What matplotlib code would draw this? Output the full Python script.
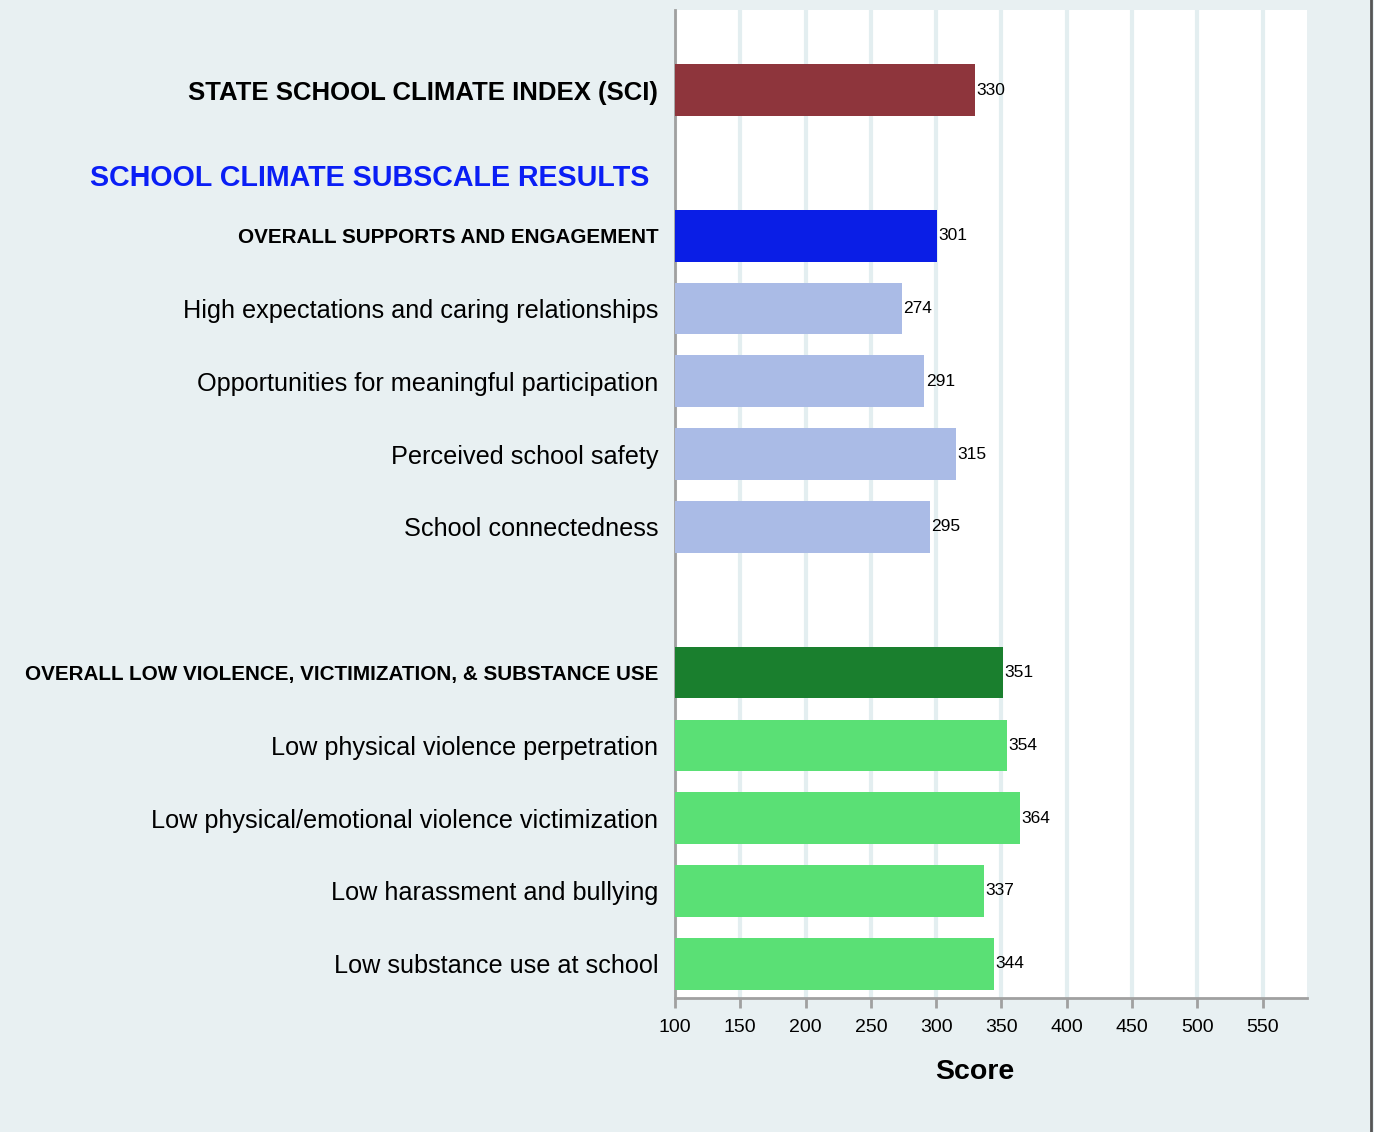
import matplotlib.pyplot as plt
from matplotlib.transforms import blended_transform_factory

plt.rcParams['font.family'] = ['Liberation Sans', 'DejaVu Sans']

# rows top to bottom; None = no bar (spacer rows)
labels = [
    "STATE SCHOOL CLIMATE INDEX (SCI)",
    "",
    "OVERALL SUPPORTS AND ENGAGEMENT",
    "High expectations and caring relationships",
    "Opportunities for meaningful participation",
    "Perceived school safety",
    "School connectedness",
    "",
    "OVERALL LOW VIOLENCE, VICTIMIZATION, & SUBSTANCE USE",
    "Low physical violence perpetration",
    "Low physical/emotional violence victimization",
    "Low harassment and bullying",
    "Low substance use at school",
]
scores = [330, None, 301, 274, 291, 315, 295, None, 351, 354, 364, 337, 344]
kinds = ["sci", None, "head", "sub", "sub", "sub", "sub", None,
         "head", "sub", "sub", "sub", "sub"]
colors = ["#8E353C", None, "#0A1EE6", "#AABBE6", "#AABBE6", "#AABBE6", "#AABBE6", None,
          "#1A7F2E", "#5AE075", "#5AE075", "#5AE075", "#5AE075"]
section_title = "SCHOOL CLIMATE SUBSCALE RESULTS"
xticks = [100, 150, 200, 250, 300, 350, 400, 450, 500, 550]
base = 100

bg = "#E8F0F2"
fig = plt.figure(figsize=(13.74, 11.32), dpi=100, facecolor=bg)
ax = fig.add_axes([675 / 1374, 1 - 998 / 1132, 632 / 1374, 988 / 1132])
ax.set_facecolor("white")

for i, (s, c) in enumerate(zip(scores, colors)):
    if s is None:
        continue
    ax.barh(i, s - base, left=base, height=0.71, color=c, zorder=3)
    ax.text(s + 1, i, str(s), va="center", ha="left", fontsize=12.5, zorder=4)

ax.set_xlim(base, 584)
ax.set_ylim(12.47, -1.1)
ax.set_xticks(xticks)
ax.set_xticklabels([str(t) for t in xticks], fontsize=14)
ax.tick_params(axis="x", length=7, width=2, color="#A0A0A0", pad=8)
ax.tick_params(axis="y", length=0, pad=12)
ax.set_yticks(range(len(labels)))
ax.set_yticklabels(labels)
for lab, k in zip(ax.get_yticklabels(), kinds):
    if k == "sci":
        lab.set_fontsize(18.5)
        lab.set_fontweight("bold")
    elif k == "head":
        lab.set_fontsize(14.9)
        lab.set_fontweight("bold")
    else:
        lab.set_fontsize(18.2)

trans = blended_transform_factory(ax.transAxes, ax.transData)
ax.text(-0.04, 1.21, section_title, transform=trans, ha="right", va="center",
        fontsize=20.6, fontweight="bold", color="#0A1EF5")

ax.grid(axis="x", color="#E3EEF0", linewidth=3, zorder=0)
for sp in ["top", "right"]:
    ax.spines[sp].set_visible(False)
for sp in ["left", "bottom"]:
    ax.spines[sp].set_color("#A0A0A0")
    ax.spines[sp].set_linewidth(2)

ax.set_xlabel("Score", fontsize=20.5, fontweight="bold", labelpad=18)
ax.xaxis.set_label_coords(0.475, -0.062)

# thin dark frame line on the right edge
fig.add_artist(plt.Line2D([1371 / 1374, 1371 / 1374], [0, 1], color="#555555",
                          linewidth=2, transform=fig.transFigure))

fig.savefig("out.png", dpi=100, facecolor=bg)
